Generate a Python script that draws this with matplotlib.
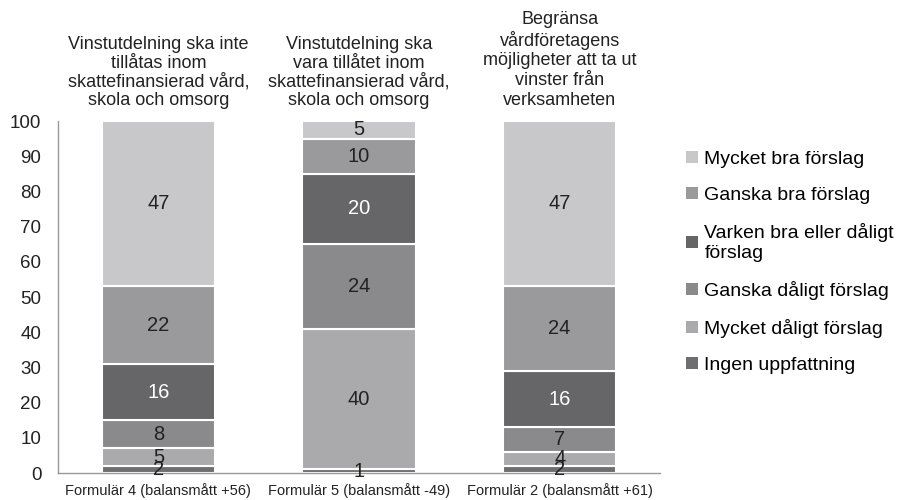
import matplotlib
matplotlib.use("Agg")
import matplotlib.pyplot as plt
import numpy as np

plt.rcParams['font.family'] = ['Liberation Sans', 'DejaVu Sans']

categories = ["Formulär 4 (balansmått +56)", "Formulär 5 (balansmått -49)", "Formulär 2 (balansmått +61)"]
titles = ["Vinstutdelning ska inte\ntillåtas inom\nskattefinansierad vård,\nskola och omsorg",
          "Vinstutdelning ska\nvara tillåtet inom\nskattefinansierad vård,\nskola och omsorg",
          "Begränsa\nvårdföretagens\nmöjligheter att ta ut\nvinster från\nverksamheten"]
# bottom to top
series_names = ["Ingen uppfattning", "Mycket dåligt förslag", "Ganska dåligt förslag",
                "Varken bra eller dåligt\nförslag", "Ganska bra förslag", "Mycket bra förslag"]
ingen = [2, 1, 2]
mycket_daligt = [5, 40, 4]
ganska_daligt = [8, 24, 7]
varken = [16, 20, 16]
ganska_bra = [22, 10, 24]
mycket_bra = [47, 5, 47]
series = [ingen, mycket_daligt, ganska_daligt, varken, ganska_bra, mycket_bra]
colors = ["#6e6e70", "#aaaaad", "#8a8a8d", "#666668", "#9a9a9d", "#c8c8ca"]
label_colors = ["#222222", "#222222", "#222222", "white", "#222222", "#222222"]

fig = plt.figure(figsize=(9.02, 5.0), dpi=100)
ax = fig.add_axes([0.0643, 0.054, 0.6674, 0.704])

x = np.arange(len(categories))
bottom = np.zeros(len(categories))
handles = []
for vals, col, lc, name in zip(series, colors, label_colors, series_names):
    vals = np.array(vals, dtype=float)
    bars = ax.bar(x, vals, 0.565, bottom=bottom, color=col, edgecolor="white", linewidth=1.5, label=name)
    handles.append(bars)
    for xi, b, v in zip(x, bottom, vals):
        ax.text(xi, b + v / 2, f"{int(v)}", ha="center", va="center", fontsize=14.5, color=lc)
    bottom += vals

title_spacing = [1.1, 1.1, 1.2]
for xi, t, ls in zip(x, titles, title_spacing):
    ax.text(xi, 103.5, t, ha="center", va="bottom", fontsize=13, color="#222222",
            linespacing=ls, clip_on=False)

ax.set_xlim(-0.5, 2.5)
ax.set_ylim(0, 100)
ax.set_yticks(range(0, 101, 10))
ax.set_xticks(x)
ax.set_xticklabels(categories, fontsize=10.5, color="#222222")
ax.tick_params(axis="y", length=0, pad=12, labelsize=13.5, labelcolor="#222222")
ax.tick_params(axis="x", length=0, pad=7)
for s in ["top", "right"]:
    ax.spines[s].set_visible(False)
for s in ["left", "bottom"]:
    ax.spines[s].set_color("#999999")
    ax.spines[s].set_linewidth(1)

leg = fig.legend(handles[::-1], series_names[::-1], loc="upper left", bbox_to_anchor=(0.741, 0.733),
                 frameon=False, fontsize=14, handlelength=0.6, handleheight=0.6,
                 handletextpad=0.35, labelspacing=0.98)
for h in leg.legend_handles:
    h.set_edgecolor("none")

fig.savefig("out.png", dpi=100)
